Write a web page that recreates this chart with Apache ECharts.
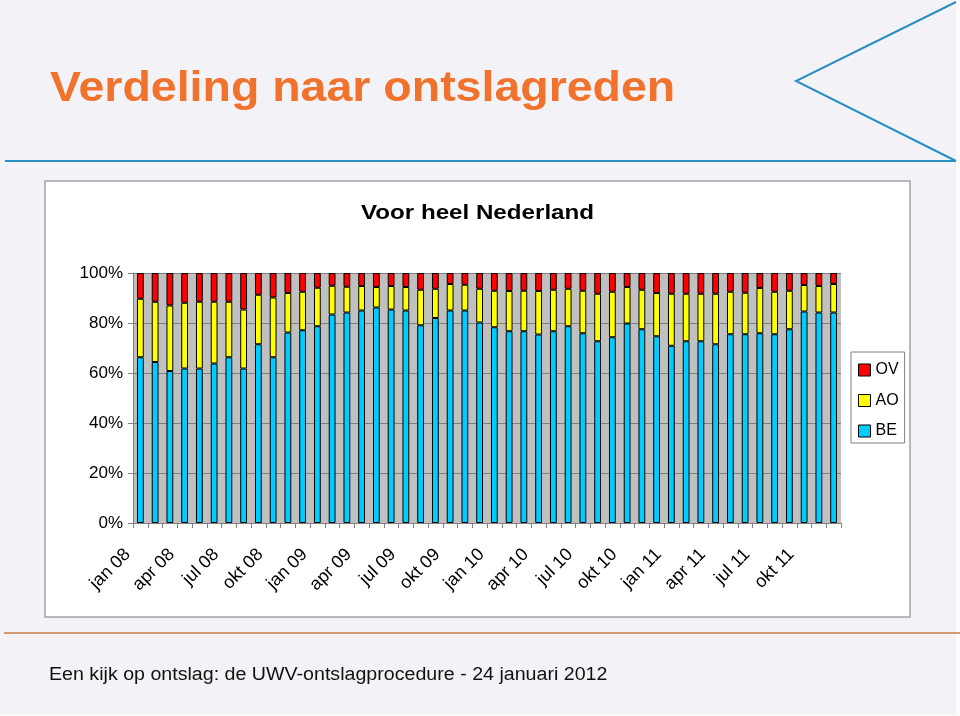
<!DOCTYPE html>
<html>
<head>
<meta charset="utf-8">
<script src="https://cdn.jsdelivr.net/npm/echarts@6/dist/echarts.min.js"></script>
<style>
html,body{margin:0;padding:0;background:#f3f3f7;}
#c{width:960px;height:716px;}
</style>
</head>
<body>
<div id="c"></div>
<script>
// ---- data ----
const monthNames = ['jan','feb','mrt','apr','mei','jun','jul','aug','sep','okt','nov','dec'];
const years = ['08','09','10','11'];
const categories = [];
years.forEach(y => monthNames.forEach(m => categories.push(m + ' ' + y)));

const legendOrder = ['OV','AO','BE'];
const yTickValues = [0,20,40,60,80,100];

// BE (bottom, blue)
const beValues = [66.3,64.4,60.8,61.8,61.8,63.8,66.3,61.8,71.5,66.3,76.2,77.1,
                  78.7,83.4,84.2,85.0,86.2,85.4,85.0,79.1,82.0,85.0,85.0,80.2,
                  78.3,76.7,76.7,75.4,76.7,78.7,75.9,72.7,74.3,79.8,77.5,74.7,
                  70.9,72.7,72.7,71.5,75.5,75.5,75.9,75.5,77.5,84.6,84.2,84.2];
// AO (middle, yellow)
const aoValues = [23.4,24.1,26.2,26.3,26.7,24.7,22.2,23.6,19.8,23.9,15.8,15.4,
                  15.4,11.5,10.3,9.8,8.2,9.4,9.4,14.2,11.7,10.6,10.3,13.5,
                  14.6,16.1,16.2,17.4,16.6,15.0,17.0,19.0,18.2,14.6,15.8,17.3,
                  20.8,19.0,19.0,20.2,17.0,16.6,18.1,17.0,15.4,10.6,10.6,11.4];
// OV (top, red)
const ovValues = [10.3,11.5,13.0,11.9,11.5,11.5,11.5,14.6,8.7,9.8,8.0,7.5,
                  5.9,5.1,5.5,5.2,5.6,5.2,5.6,6.7,6.3,4.4,4.7,6.3,
                  7.1,7.2,7.1,7.2,6.7,6.3,7.1,8.3,7.5,5.6,6.7,8.0,
                  8.3,8.3,8.3,8.3,7.5,7.9,6.0,7.5,7.1,4.8,5.2,4.4];

const pageTitle = 'Verdeling naar ontslagreden';
const chartTitle = 'Voor heel Nederland';
const footerText = 'Een kijk op ontslag: de UWV-ontslagprocedure - 24 januari 2012';

// ---- chart ----
const FONT = '"Liberation Sans", Arial, sans-serif';
const chart = echarts.init(document.getElementById('c'), null, {renderer:'canvas'});

function barSeries(name, data, color) {
  return {
    name: name, type: 'bar', stack: 'total', data: data,
    barWidth: '46%',
    itemStyle: {color: color, borderColor: '#000', borderWidth: 1},
    emphasis: {disabled: true},
    animation: false
  };
}

chart.setOption({
  backgroundColor: '#f3f3f7',
  animation: false,
  graphic: [
    {type:'rect', z:-20, shape:{x:956, y:0, width:4, height:716}, style:{fill:'#fbfbfc'}},
    {type:'rect', z:-20, shape:{x:0, y:714, width:960, height:2}, style:{fill:'#fbfbfc'}},
    {type:'rect', z:-10, shape:{x:45, y:181, width:865, height:436},
      style:{fill:'#ffffff', stroke:'#a3a3a3', lineWidth:1.5}},
    {type:'line', z:-5, shape:{x1:5, y1:161, x2:956, y2:161}, style:{stroke:'#2a8fc2', lineWidth:2}},
    {type:'polyline', z:-5, shape:{points:[[956,2],[796,81],[956,161]]}, style:{stroke:'#2a8fc2', lineWidth:2, fill:null}},
    {type:'line', z:-5, shape:{x1:4, y1:633, x2:960, y2:633}, style:{stroke:'#d49b72', lineWidth:2}},
    {type:'text', x:50, y:89, scaleX:1.107,
      style:{text:pageTitle, font:'bold 42px ' + FONT, fill:'#f0722d', align:'left', verticalAlign:'middle'}},
    {type:'text', x:477.5, y:213, scaleX:1.15,
      style:{text:chartTitle, font:'bold 21px ' + FONT, fill:'#000', align:'center', verticalAlign:'middle'}},
    {type:'text', x:49, y:675, scaleX:1.09,
      style:{text:footerText, font:'18px ' + FONT, fill:'#111', align:'left', verticalAlign:'middle'}}
  ],
  grid: {
    left: 133, right: 119, top: 273, bottom: 193,
    show: true, backgroundColor: '#c0c0c0', borderWidth: 0
  },
  legend: {
    data: legendOrder,
    orient: 'vertical',
    left: 851, top: 352,
    padding: [10, 6, 4, 7],
    itemGap: 14.5,
    itemWidth: 12, itemHeight: 12,
    icon: 'rect',
    backgroundColor: '#fff',
    borderColor: '#808080', borderWidth: 1,
    selectedMode: false,
    itemStyle: {borderColor:'#000', borderWidth:1},
    textStyle: {fontFamily: FONT, fontSize: 16, color: '#000'}
  },
  xAxis: {
    type: 'category',
    data: categories,
    boundaryGap: true,
    axisLine: {show: true, lineStyle: {color: '#808080', width: 1}},
    axisTick: {show: true, interval: 0, length: 5, lineStyle: {color: '#808080'}},
    axisLabel: {
      interval: 2, rotate: 45, margin: 16,
      fontFamily: FONT, fontSize: 18, color: '#000',
      padding: [0, 18, 0, 0]
    },
    splitLine: {show: false}
  },
  yAxis: {
    type: 'value',
    min: yTickValues[0], max: yTickValues[yTickValues.length - 1], interval: 20,
    axisLine: {show: true, lineStyle: {color: '#808080', width: 1}},
    axisTick: {show: true, length: 5, lineStyle: {color: '#808080'}},
    axisLabel: {formatter: '{value}%', margin: 10, fontFamily: FONT, fontSize: 17, color: '#000'},
    splitLine: {show: true, lineStyle: {color: '#808080', width: 1}}
  },
  series: [
    barSeries('BE', beValues, '#00ccff'),
    barSeries('AO', aoValues, '#ffff00'),
    barSeries('OV', ovValues, '#ff0000')
  ]
});
</script>
</body>
</html>
